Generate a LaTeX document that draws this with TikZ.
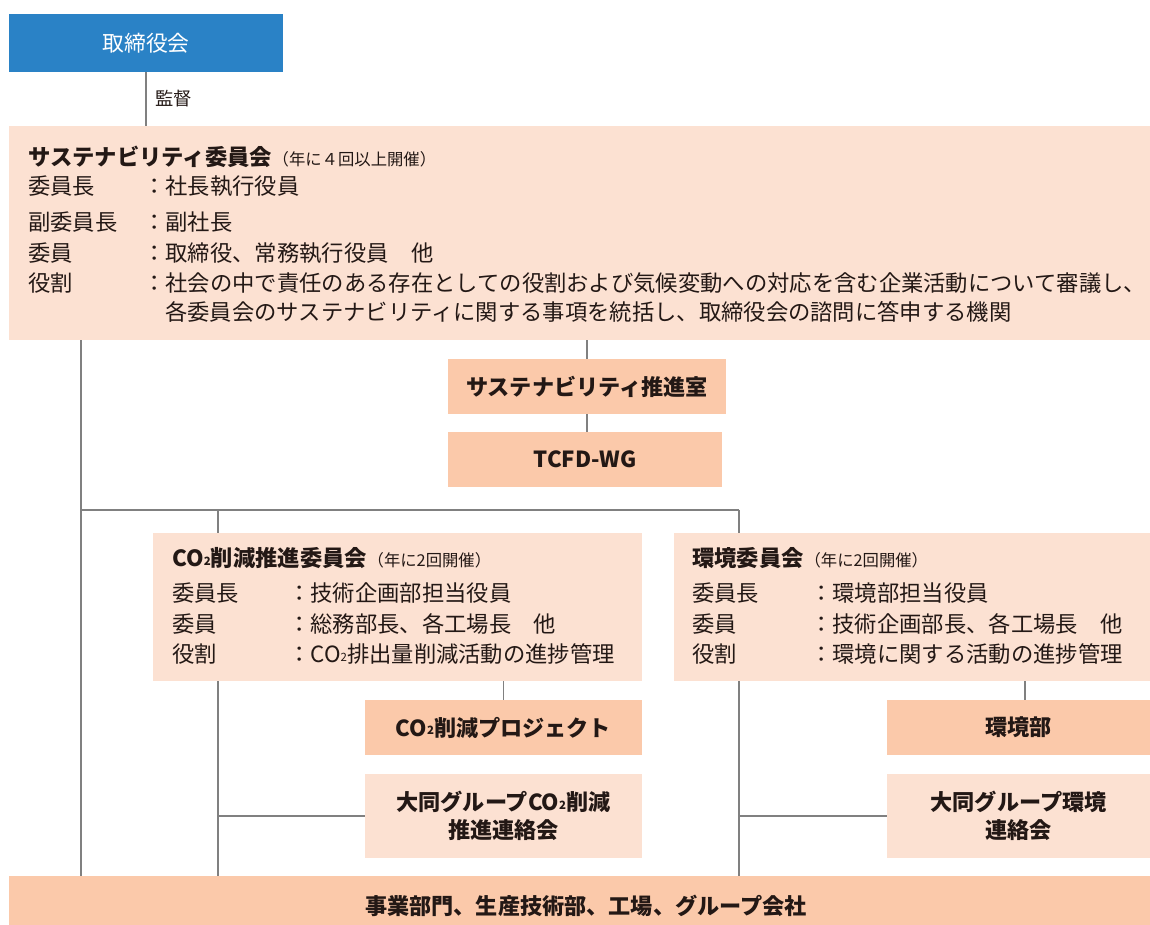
\documentclass[tikz,border=0pt]{standalone}
\usepackage{fontspec}
\setmainfont{Noto Sans CJK JP}
\usetikzlibrary{positioning, fit}

\definecolor{boardblue}{HTML}{2A82C6}
\definecolor{palepeach}{HTML}{FCE1D2}
\definecolor{peach}{HTML}{FBC9AA}
\definecolor{linegray}{HTML}{808080}
\definecolor{ink}{HTML}{231815}

\newcommand{\cotwo}{CO\raisebox{0.1ex}{\fontsize{6.5}{7}\selectfont 2}}

\begin{document}
\begin{tikzpicture}[
  x=0.02cm, y=-0.02cm,
  font=\fontsize{12.7}{15.5}\selectfont,
  every node/.style={align=center, text=ink},
  board/.style={fill=boardblue, inner sep=0pt},
  panel/.style={fill=palepeach, inner sep=0pt},
  unit/.style={fill=peach, inner sep=0pt},
  group/.style={fill=palepeach, inner sep=0pt},
  boxtxt/.style={inner sep=0pt, font=\fontsize{12.6}{15.8}\selectfont\bfseries},
  link/.style={draw=linegray, line width=0.8pt},
  txt/.style={anchor=west, inner sep=0pt},
  ttl/.style={anchor=west, inner sep=0pt, font=\fontsize{12.7}{15.5}\selectfont\bfseries},
  note/.style={anchor=base west, inner sep=0pt, font=\fontsize{9.3}{11}\selectfont}
]
\useasboundingbox (0,0) rectangle (1150,925);

% trunk lines (drawn first, boxes cover them)
\coordinate (trunk) at (81,510);
\coordinate (co2trunk) at (218,510);
\coordinate (envtrunk) at (739,510);

\node[board, fit={(9,14) (283,72)}] (board) {};
\node[inner sep=0pt, text=white, font=\fontsize{12.4}{15}\selectfont] (boardtxt) at (board.center) {取締役会};

\node[panel, fit={(9,126) (1150,340)}] (susc) {};
\node[unit, fit={(448,359) (726,414)}] (office) {};
\node[boxtxt] at (office.center) {サステナビリティ推進室};
\node[unit, fit={(448,432) (722,487)}] (tcfd) {};
\node[boxtxt] at (tcfd.center) {TCFD-WG};

\node[unit, fit={(9,876) (1150,925)}] (bottom) {};
\node[boxtxt] (bottomtxt) at (586,906) {事業部門、生産技術部、工場、グループ会社};

\draw[link] (susc.south -| trunk) -- (bottom.north -| trunk);
\draw[link] (trunk) -- (envtrunk);
\draw[link] (co2trunk) -- (bottom.north -| co2trunk);
\draw[link] (envtrunk) -- (bottom.north -| envtrunk);

\node[panel, fit={(153,533) (642,681)}] (co2c) {};
\node[panel, fit={(674,533) (1150,681)}] (envc) {};

\node[unit, fit={(365,700) (642,755)}] (co2proj) {};
\node[boxtxt] at (co2proj.center) {\cotwo 削減プロジェクト};
\node[group, fit={(365,774) (642,858)}] (co2group) {};
\node[boxtxt] at (co2group.center) {大同グループ\cotwo 削減\\推進連絡会};
\node[unit, fit={(887,700) (1150,755)}] (envdept) {};
\node[boxtxt] at (envdept.center) {環境部};
\node[group, fit={(887,774) (1150,858)}] (envgroup) {};
\node[boxtxt] at (envgroup.center) {大同グループ環境\\連絡会};

\draw[link] (board.south) -- (susc.north -| board.south)
  node[midway, right=5pt, inner sep=0pt, font=\fontsize{10.4}{12}\selectfont] (watch) {監督};
\draw[link] (susc.south -| office.north) -- (office.north);
\draw[link] (office.south) -- (office.south |- tcfd.north);
\draw[link] (co2c.south -| co2proj.north) -- (co2proj.north);
\draw[link] (envc.south -| 1025,0) -- (envdept.north -| 1025,0);
\draw[link] (co2group.west -| co2trunk) -- (co2group.west);
\draw[link] (envgroup.west -| envtrunk) -- (envgroup.west);

% sustainability committee
\node[ttl] (sustitle) at (28,157) {サステナビリティ委員会};
\node[note] at (sustitle.base east) {（年に４回以上開催）};
\node[txt] (s1a) at (28,186) {委員長};
\node[txt] (s1b) at (143,186) {：社長執行役員};
\node[txt] (s2a) at (28,222) {副委員長};
\node[txt] (s2b) at (143,222) {：副社長};
\node[txt] (s3a) at (28,253) {委員};
\node[txt] (s3b) at (143,253) {：取締役、常務執行役員　他};
\node[txt] (s4a) at (28,283) {役割};
\node[txt] (s4b) at (143,283) {：社会の中で責任のある存在としての役割および気候変動への対応を含む企業活動について審議し、};
\node[txt] (s5b) at (165,312) {各委員会のサステナビリティに関する事項を統括し、取締役会の諮問に答申する機関};

% CO2 committee
\node[ttl] (co2title) at (172,558) {\cotwo 削減推進委員会};
\node[note] at (co2title.base east) {（年に2回開催）};
\node[txt] (c1a) at (172,593) {委員長};
\node[txt] (c1b) at (288,593) {：技術企画部担当役員};
\node[txt] (c2a) at (172,624) {委員};
\node[txt] (c2b) at (288,624) {：総務部長、各工場長　他};
\node[txt] (c3a) at (172,654) {役割};
\node[txt] (c3b) at (288,654) {：\cotwo 排出量削減活動の進捗管理};

% environment committee
\node[ttl] (envtitle) at (692,558) {環境委員会};
\node[note] at (envtitle.base east) {（年に2回開催）};
\node[txt] (e1a) at (692,593) {委員長};
\node[txt] (e1b) at (810,593) {：環境部担当役員};
\node[txt] (e2a) at (692,624) {委員};
\node[txt] (e2b) at (810,624) {：技術企画部長、各工場長　他};
\node[txt] (e3a) at (692,654) {役割};
\node[txt] (e3b) at (810,654) {：環境に関する活動の進捗管理};

\end{tikzpicture}
\end{document}
